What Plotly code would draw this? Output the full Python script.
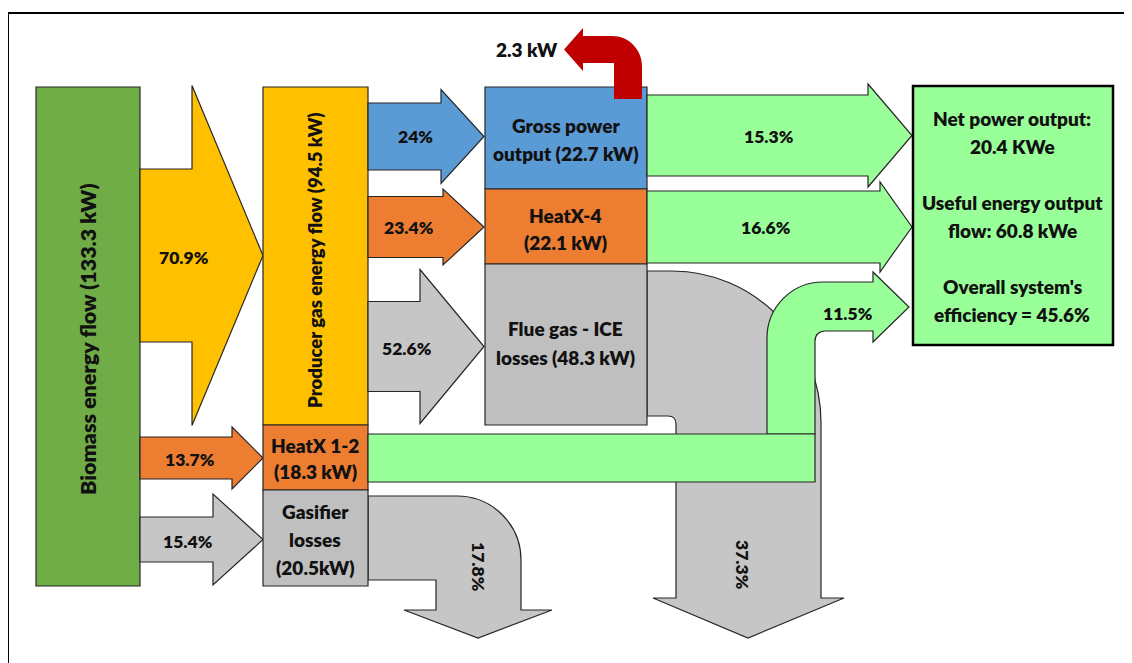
import plotly.graph_objects as go

# ---------------- DATA (text / values) ----------------
source_label = "Biomass energy flow (133.3 kW)"
producer_label = "Producer gas energy flow (94.5 kW)"
stage1_pct = ["70.9%", "13.7%", "15.4%"]           # biomass -> producer gas, HeatX 1-2, gasifier losses
stage2_pct = ["24%", "23.4%", "52.6%"]             # producer gas -> gross power, HeatX-4, flue gas
stage3_pct = ["15.3%", "16.6%", "11.5%"]           # to useful output
loss_pct = ["17.8%", "37.3%"]                      # gasifier losses, flue gas losses
aux_label = "2.3 kW"
heatx12_lines = ["HeatX 1-2", "(18.3 kW)"]
gasifier_lines = ["Gasifier", "losses", "(20.5kW)"]
gross_lines = ["Gross power", "output (22.7 kW)"]
heatx4_lines = ["HeatX-4", "(22.1 kW)"]
flue_lines = ["Flue gas - ICE", "losses (48.3 kW)"]
result_lines = ["Net power output:", "20.4 KWe", "Useful energy output", "flow: 60.8 kWe",
                "Overall system's", "efficiency = 45.6%"]

# ---------------- STYLE ----------------
FONT = "Lato"
WEIGHT = 800
TXT = 19
PCT = 17.5
C_GREEN = "#70AD47"
C_YELLOW = "#FFC000"
C_BLUE = "#5B9BD5"
C_ORANGE = "#ED7D31"
C_GRAY = "#BFBFBF"
C_GRAY_ARROW = "#C6C6C6"
C_LGREEN = "#99FF99"
C_RED = "#C00000"
EDGE = "#262626"
K = 0.5523

shapes = []


def add_path(path, fill, lw=1.2, color=EDGE):
    shapes.append(dict(type="path", path=path, fillcolor=fill,
                       line=dict(color=color, width=lw), xref="x", yref="y", layer="above"))


def add_rect(x0, y0, x1, y1, fill, lw=1.2, color=EDGE):
    shapes.append(dict(type="rect", x0=x0, y0=y0, x1=x1, y1=y1, fillcolor=fill,
                       line=dict(color=color, width=lw), xref="x", yref="y", layer="above"))


def arrow_right(x0, xh, xt, yc, tw, hw, fill):
    p = (f"M {x0} {yc - tw} L {xh} {yc - tw} L {xh} {yc - hw} L {xt} {yc} "
         f"L {xh} {yc + hw} L {xh} {yc + tw} L {x0} {yc + tw} Z")
    add_path(p, fill)


annotations = []


def label(x, y, text, size=TXT, angle=0, color="#111111"):
    annotations.append(dict(x=x, y=y, xref="x", yref="y", text=text, showarrow=False,
                            textangle=angle, xanchor="center", yanchor="middle",
                            font=dict(family=FONT, size=size, color=color, weight=WEIGHT)))


# ---------------- GEOMETRY ----------------
# frame
add_rect(8, 13, 1170, 720, "rgba(0,0,0,0)", lw=2, color="#000000")

# column 1: biomass
add_rect(36, 87, 140, 586, C_GREEN)

# stage 1 arrows
arrow_right(140, 192, 263, 255.5, 86.5, 170, C_YELLOW)
arrow_right(140, 232, 263, 458, 21, 31, C_ORANGE)
arrow_right(140, 213, 263, 539.5, 22.5, 45.5, C_GRAY_ARROW)

# gasifier loss arrow (17.8 %)
r = 64
add_path(f"M 368 496 L 457 496 C {457 + r * K} 496 521 {560 - r * K} 521 560 L 521 610 L 552 610 "
         f"L 478 638 L 404 610 L 436 610 L 436 580 L 368 580 Z", C_GRAY_ARROW)

# column 2: producer gas / HeatX 1-2 / gasifier losses
add_rect(263, 87, 368, 425, C_YELLOW)
add_rect(263, 425, 368, 490, C_ORANGE)
add_rect(263, 490, 368, 586, C_GRAY)

# stage 2 arrows
arrow_right(368, 441, 484, 136.5, 33.5, 47, C_BLUE)
arrow_right(368, 443, 484, 227, 30.5, 38, C_ORANGE)
arrow_right(368, 420, 484, 346.5, 45, 77, C_GRAY_ARROW)

# flue gas loss arrow (37.3 %)
rx, ry = 149, 152
add_path(f"M 647 271 L 672 271 C {672 + rx * K} 271 821 {423 - ry * K} 821 423 L 821 598 L 844 598 "
         f"L 748 638 L 653 598 L 676 598 L 676 424 C 676 419 673 416 668 416 L 647 416 Z", C_GRAY_ARROW)

# recirculated green arrow (11.5 %)
ro = 56
add_path(f"M 767 434 L 767 {282 + ro} C 767 {282 + ro - ro * K} {823 - ro * K} 282 823 282 L 873 282 "
         f"L 873 272 L 909 307 L 873 342 L 873 331 L 825 331 C 819 331 815 335 815 341 L 815 434 Z",
         C_LGREEN)
# HeatX 1-2 bar
add_rect(368, 434, 815, 482, C_LGREEN)

# column 3 boxes
add_rect(485, 87, 647, 189, C_BLUE)
add_rect(485, 189, 647, 264, C_ORANGE)
add_rect(485, 264, 647, 425, C_GRAY)

# red auxiliary arrow
add_path(f"M 614 99 L 614 63 L 583 63 L 583 71 L 564 49.5 L 583 28 L 583 36 L 612 36 "
         f"C {612 + 30 * K} 36 642 {66 - 30 * K} 642 66 L 642 99 Z", C_RED, lw=0)

# stage 3 arrows
arrow_right(647, 868, 912, 135.5, 40.5, 51.5, C_LGREEN)
arrow_right(647, 880, 912, 227, 36, 45, C_LGREEN)

# result box
add_rect(913, 86, 1113, 345, C_LGREEN, lw=2.5, color="#000000")

# ---------------- LABELS ----------------
label(88, 339, source_label, size=21.5, angle=-90)
label(315, 260, producer_label, size=18.5, angle=-90)

label(184, 257, stage1_pct[0], size=PCT)
label(190, 459, stage1_pct[1], size=PCT)
label(188, 541, stage1_pct[2], size=PCT)

label(415, 136, stage2_pct[0], size=PCT)
label(409, 227, stage2_pct[1], size=PCT)
label(407, 348, stage2_pct[2], size=PCT)

label(769, 136, stage3_pct[0], size=PCT)
label(766, 227, stage3_pct[1], size=PCT)
label(848, 313, stage3_pct[2], size=PCT)

label(479, 567, loss_pct[0], size=PCT, angle=90)
label(743, 565, loss_pct[1], size=PCT, angle=90)

label(527, 49, aux_label, size=TXT)

for i, t in enumerate(heatx12_lines):
    label(315, 445 + 26 * i, t)
for i, t in enumerate(gasifier_lines):
    label(315, 511 + 28 * i, t)
for i, t in enumerate(gross_lines):
    label(566, 125 + 28 * i, t)
for i, t in enumerate(heatx4_lines):
    label(565, 215 + 27 * i, t)
for i, t in enumerate(flue_lines):
    label(565, 328 + 29 * i, t)
for i, (a, b) in enumerate(zip(result_lines[0::2], result_lines[1::2])):
    label(1012, 118 + 84 * i, a)
    label(1012, 146 + 84 * i, b)

fig = go.Figure()
# page body has an 8 px margin: shift the data window so data units equal page pixels
fig.update_layout(
    width=1132, height=663, margin=dict(l=0, r=0, t=0, b=0),
    paper_bgcolor="white", plot_bgcolor="white",
    xaxis=dict(range=[8, 1140], visible=False, fixedrange=True),
    yaxis=dict(range=[671, 8], visible=False, fixedrange=True),
    shapes=shapes, annotations=annotations, showlegend=False,
)
fig.write_html("out.html", config={"displayModeBar": False})
